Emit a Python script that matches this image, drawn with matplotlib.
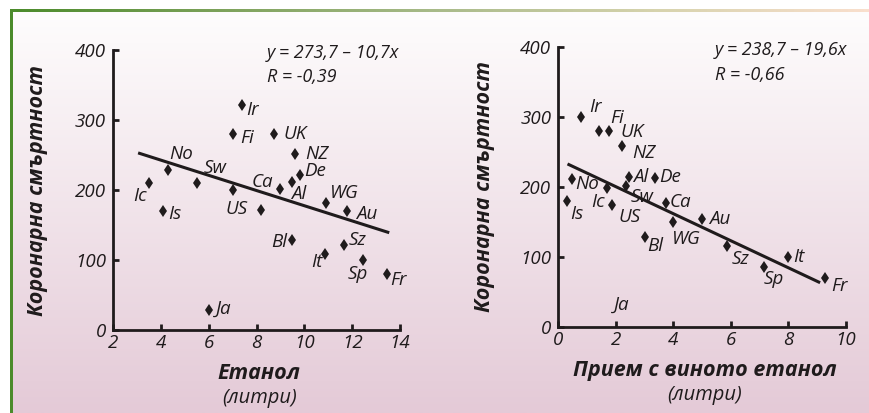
import numpy as np
import matplotlib
matplotlib.use("Agg")
import matplotlib.pyplot as plt
from matplotlib.colors import LinearSegmentedColormap, to_rgb
from matplotlib.patches import Rectangle

plt.rcParams['font.family'] = ['Open Sans', 'DejaVu Sans']
plt.rcParams['font.style'] = 'italic'

# --- данни: всички етанол (ляв панел) ---
countries_left = ['Ir', 'Fi', 'UK', 'NZ', 'De', 'Al', 'Ca', 'No', 'Ic', 'Sw',
                  'US', '', 'Is', 'WG', 'Au', 'Bl', 'Sz', 'It', 'Sp', 'Fr', 'Ja']
ethanol = [7.4, 7.0, 8.75, 9.6, 9.8, 9.5, 9.0, 4.3, 3.5, 5.5,
           7.0, 8.2, 4.1, 10.9, 11.8, 9.5, 11.65, 10.85, 12.45, 13.45, 6.0]
mortality_left = [322, 280, 280, 252, 222, 212, 201, 228, 210, 210,
                  200, 171, 170, 181, 170, 129, 122, 109, 100, 80, 29]
line_left_x = [3.05, 13.55]
line_left_y = [253, 139]

# --- данни: етанол от вино (десен панел) ---
countries_right = ['Ir', 'Fi', 'UK', 'NZ', 'Al', 'De', 'No', 'Ic', 'Sw', 'Is',
                   'US', 'Ca', 'Au', 'WG', 'Bl', 'Sz', 'It', 'Sp', 'Fr']
wine_ethanol = [0.78, 1.4, 1.75, 2.2, 2.45, 3.35, 0.47, 1.68, 2.35, 0.3,
                1.85, 3.73, 5.0, 4.0, 3.0, 5.87, 7.97, 7.15, 9.27]
mortality_right = [300, 280, 280, 259, 215, 213, 211, 198, 201, 180,
                   174, 177, 154, 150, 129, 115, 100, 86, 70]
ja_right = (2.2, 31)   # само надпис, без точка
line_right_x = [0.32, 9.1]
line_right_y = [233, 63]

# отместване на надписите (пиксели): dx, dy, подравняване
offs_left = {'Ir': (4, -5, 'left'), 'Fi': (8, -4, 'left'), 'UK': (9, 0, 'left'),
             'NZ': (10, 0, 'left'), 'De': (5, 4, 'left'), 'Al': (-1, -12, 'left'),
             'Ca': (-7, 7, 'right'), 'No': (1, 16, 'left'), 'Ic': (-2, -13, 'right'),
             'Sw': (7, 15, 'left'), 'US': (4, -19, 'center'), 'Is': (5, -3, 'left'),
             'WG': (4, 10, 'left'), 'Au': (9, -3, 'left'), 'Bl': (-5, -2, 'right'),
             'Sz': (5, 5, 'left'), 'It': (-2, -8, 'right'), 'Sp': (-5, -14, 'center'),
             'Fr': (3, -6, 'left'), 'Ja': (7, 1, 'left')}
offs_right = {'Ir': (8, 10, 'left'), 'Fi': (12, 13, 'left'), 'UK': (12, -1, 'left'),
              'NZ': (11, -7, 'left'), 'Al': (4, 0, 'left'), 'De': (5, 1, 'left'),
              'No': (3, -5, 'left'), 'Ic': (-2, -14, 'right'), 'Sw': (5, -11, 'left'),
              'Is': (3, -13, 'left'), 'US': (7, -12, 'left'), 'Ca': (4, 1, 'left'),
              'Au': (7, 0, 'left'), 'WG': (-1, -17, 'left'), 'Bl': (3, -9, 'left'),
              'Sz': (4, -13, 'left'), 'It': (6, 0, 'left'), 'Sp': (0, -12, 'left'),
              'Fr': (6, -8, 'left')}

ink = '#1f1b1c'
W, H = 869, 413
fig = plt.figure(figsize=(W / 100, H / 100), dpi=100)

# фон с преливане и зелена рамка
bg = fig.add_axes([0, 0, 1, 1], zorder=0)
bg.set_xlim(0, W)
bg.set_ylim(H, 0)
bg.axis('off')
top_c, bot_c = np.array(to_rgb('#fefdfd')), np.array(to_rgb('#e4cad7'))
t = np.linspace(0, 1, 256)[:, None, None]
grad = top_c * (1 - t) + bot_c * t
bg.imshow(grad, extent=(11, W, H, 11), aspect='auto', interpolation='bilinear')
border = LinearSegmentedColormap.from_list(
    'b', ['#4b8b2b', '#7ea35c', '#a9bb8a', '#d6d3ad', '#f9dfcd'])
bg.imshow(np.linspace(0, 1, 256)[None, :], cmap=border,
          extent=(10, W, 12.5, 9.5), aspect='auto')
bg.add_patch(Rectangle((9.5, 10), 3, H, color='#4b8b2b', lw=0))


def panel(rect, x, y, names, offs, xlim, xticks, lx, ly, eq, eq_pos, xlab, ylab_x):
    ax = fig.add_axes(rect, zorder=2)
    ax.set_facecolor('none')
    ax.plot(lx, ly, color=ink, lw=2.2, solid_capstyle='butt')
    ax.plot(x, y, 'd', color=ink, ms=6.2, mew=0)
    for xi, yi, nm in zip(x, y, names):
        if nm:
            dx, dy, ha = offs[nm]
            ax.annotate(nm, (xi, yi), xytext=(dx, dy), textcoords='offset pixels',
                        ha=ha, va='center', fontsize=13.5, color=ink)
    ax.set_xlim(*xlim)
    ax.set_ylim(0, 400)
    ax.set_xticks(xticks)
    ax.set_yticks([0, 100, 200, 300, 400])
    for s in ['top', 'right']:
        ax.spines[s].set_visible(False)
    for s in ['left', 'bottom']:
        ax.spines[s].set_linewidth(2)
        ax.spines[s].set_color(ink)
    ax.tick_params(direction='in', length=4, width=2, color=ink,
                   labelsize=13.5, labelcolor=ink)
    ax.tick_params(axis='y', pad=5)
    ax.tick_params(axis='x', pad=3)
    ax.set_ylabel('Коронарна смъртност', fontsize=15.5, fontweight='bold', color=ink)
    ax.yaxis.set_label_coords(ylab_x, 0.5)
    ax.text(eq_pos[0], eq_pos[1], eq[0], transform=ax.transAxes, fontsize=13,
            color=ink, va='center', ha='left')
    ax.text(eq_pos[0], eq_pos[2], eq[1], transform=ax.transAxes, fontsize=13,
            color=ink, va='center', ha='left')
    ax.text(0.51, -0.157, xlab, transform=ax.transAxes, fontsize=15.5,
            fontweight='bold', color=ink, ha='center', va='center')
    ax.text(0.51, -0.243, '(литри)', transform=ax.transAxes, fontsize=14.5,
            color=ink, ha='center', va='center')
    return ax


axl = panel([113 / W, 1 - 330 / H, 287 / W, 280 / H], ethanol, mortality_left,
            countries_left, offs_left, (2, 14), [2, 4, 6, 8, 10, 12, 14],
            line_left_x, line_left_y, ('y = 273,7 – 10,7x', 'R = -0,39'),
            (0.537, 0.99, 0.905), 'Етанол', -0.226)
axr = panel([558.3 / W, 1 - 326.7 / H, 287.7 / W, 279.4 / H], wine_ethanol,
            mortality_right, countries_right, offs_right, (0, 10),
            [0, 2, 4, 6, 8, 10], line_right_x, line_right_y,
            ('y = 238,7 – 19,6x', 'R = -0,66'), (0.545, 0.99, 0.9),
            'Прием с виното етанол', -0.22)
axr.text(*ja_right, 'Ja', fontsize=13.5, color=ink, ha='center', va='center')

fig.savefig('out.png', dpi=100)
